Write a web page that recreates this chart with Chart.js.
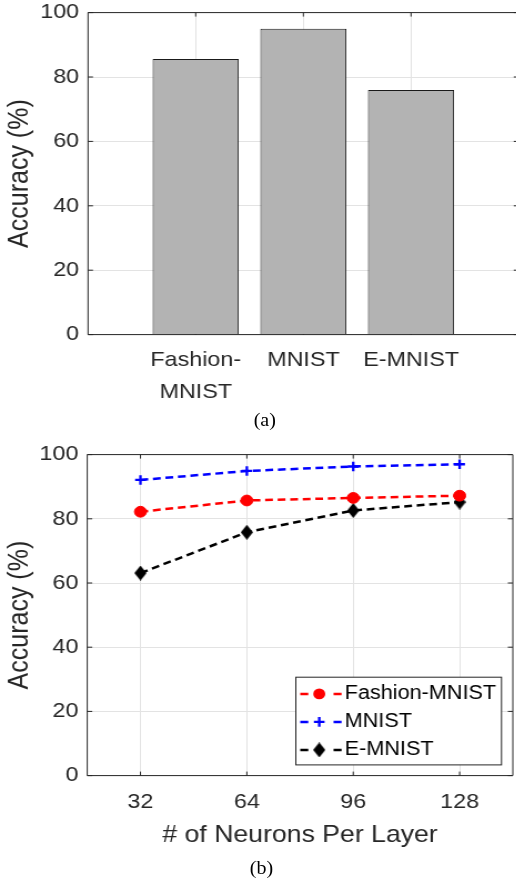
<!DOCTYPE html>
<html>
<head>
<meta charset="utf-8">
<script src="https://cdn.jsdelivr.net/npm/chart.js@4/dist/chart.umd.min.js"></script>
<style>
  html, body { margin: 0; padding: 0; background: #fff; overflow: hidden; width: 516px; height: 879px; }
  /* the figure is laid out a little narrow and widened horizontally */
  #sheet { position: absolute; left: 0; top: 0; width: 480px; height: 879px; transform: scaleX(1.11); transform-origin: 0 0; }
  canvas { position: absolute; left: 0; }
  .cap { position: absolute; font-family: 'Liberation Serif', 'Times New Roman', serif; font-size: 18px; color: #000;
         height: 20px; line-height: 20px; text-align: center; }
</style>
</head>
<body>
<div id="sheet">
  <canvas id="barChart" width="480" height="410" style="top:-7.6px;width:480px;height:410px"></canvas>
  <div class="cap" style="left:0;width:477px;top:410px">(a)</div>
  <canvas id="lineChart" width="470" height="420" style="top:434.1px;width:470px;height:420px"></canvas>
  <div class="cap" style="left:0;width:471px;top:858px">(b)</div>
</div>
<script>
// ---- data ----
const datasetNames = ['Fashion-MNIST', 'MNIST', 'E-MNIST'];
const barCategories = [['Fashion-', 'MNIST'], ['MNIST'], ['E-MNIST']];
const barAccuracy = [85.6, 95.0, 76.0];

const neuronCounts = [32, 64, 96, 128];
const fashionAccuracy = [82.2, 85.7, 86.5, 87.2];
const mnistAccuracy = [92.1, 94.9, 96.3, 97.0];
const emnistAccuracy = [63.1, 75.8, 82.6, 85.2];

const accuracyTicks = [0, 20, 40, 60, 80, 100];

// ---- styling ----
const FONT = "'Liberation Sans', Arial, Helvetica, sans-serif";
const INK = '#262626';
const GRID = '#e3e3e3';

// box around the axes with inward tick marks on every side
const axesBox = {
  id: 'axesBox',
  beforeDatasetsDraw(chart) {
    const { ctx, chartArea: a, scales } = chart;
    ctx.save();
    ctx.strokeStyle = INK;
    ctx.lineWidth = 1;
    ctx.beginPath();
    ctx.rect(a.left, a.top, a.right - a.left, a.bottom - a.top);
    scales.x.ticks.forEach(t => {
      const p = scales.x.getPixelForValue(t.value);
      ctx.moveTo(p, a.bottom); ctx.lineTo(p, a.bottom - 4);
      ctx.moveTo(p, a.top); ctx.lineTo(p, a.top + 4);
    });
    scales.y.ticks.forEach(t => {
      const p = scales.y.getPixelForValue(t.value);
      ctx.moveTo(a.left, p); ctx.lineTo(a.left + 4.5, p);
      ctx.moveTo(a.right, p); ctx.lineTo(a.right - 4.5, p);
    });
    ctx.stroke();
    ctx.restore();
  }
};

function yAxis(width) {
  return {
    type: 'linear', min: 0, max: 100,
    afterBuildTicks: s => { s.ticks = accuracyTicks.map(v => ({ value: v })); },
    afterFit: s => { s.width = width; },
    grid: { color: GRID, lineWidth: 1, drawTicks: false },
    border: { display: false },
    ticks: { color: INK, padding: 8, font: { family: FONT, size: 21 } },
    title: { display: true, text: 'Accuracy (%)', color: INK,
             font: { family: FONT, size: 25 }, padding: { top: 3, bottom: 0 } }
  };
}

// ---- (a) bar chart ----
new Chart(document.getElementById('barChart'), {
  type: 'bar',
  data: {
    datasets: [{
      data: barAccuracy.map((v, i) => ({ x: i + 1, y: v })),
      backgroundColor: '#b3b3b3',
      borderColor: '#1a1a1a',
      borderWidth: 1,
      barPercentage: 0.8,
      categoryPercentage: 1.0
    }]
  },
  options: {
    responsive: false, maintainAspectRatio: false, animation: false,
    layout: { padding: { left: 0, top: 0, right: 12.7, bottom: 0 } },
    plugins: { legend: { display: false }, tooltip: { enabled: false } },
    scales: {
      x: {
        type: 'linear', min: 0, max: 4, offset: false,
        afterBuildTicks: s => { s.ticks = barCategories.map((_, i) => ({ value: i + 1 })); },
        afterFit: s => { s.height = 67.4; },
        grid: { color: GRID, lineWidth: 1, drawTicks: false, offset: false },
        border: { display: false },
        ticks: {
          color: INK, padding: 9, maxRotation: 0,
          font: { family: FONT, size: 21, lineHeight: 1.55 },
          callback: v => barCategories[v - 1] || ''
        }
      },
      y: yAxis(79.3)
    }
  },
  plugins: [axesBox]
});

// ---- (b) line chart ----
function diamondGlyph(w, h, color) {
  const c = document.createElement('canvas');
  c.width = w; c.height = h;
  const g = c.getContext('2d');
  g.fillStyle = color;
  g.beginPath();
  g.moveTo(w / 2, 0); g.lineTo(w, h / 2); g.lineTo(w / 2, h); g.lineTo(0, h / 2);
  g.closePath(); g.fill();
  return c;
}
const diamond = diamondGlyph(11, 15, '#000000');

function series(name, values, color, marker, radius, markerWidth) {
  return {
    label: name,
    data: neuronCounts.map((n, i) => ({ x: n, y: values[i] })),
    borderColor: color, backgroundColor: color,
    borderWidth: 2.5, borderDash: [7, 4.3], borderCapStyle: 'butt',
    tension: 0, fill: false,
    pointStyle: marker, pointRadius: radius, pointHoverRadius: radius,
    pointBorderWidth: markerWidth, pointBorderColor: color, pointBackgroundColor: color
  };
}

function drawMarker(ctx, ds, x, y) {
  const st = ds.pointStyle;
  ctx.save();
  ctx.setLineDash([]);
  if (st instanceof HTMLCanvasElement) {
    ctx.drawImage(st, x - st.width / 2, y - st.height / 2);
  } else if (st === 'cross') {
    ctx.strokeStyle = ds.pointBorderColor; ctx.lineWidth = ds.pointBorderWidth;
    ctx.beginPath();
    ctx.moveTo(x - ds.pointRadius, y); ctx.lineTo(x + ds.pointRadius, y);
    ctx.moveTo(x, y - ds.pointRadius); ctx.lineTo(x, y + ds.pointRadius);
    ctx.stroke();
  } else {
    ctx.fillStyle = ds.pointBackgroundColor;
    ctx.beginPath(); ctx.arc(x, y, ds.pointRadius, 0, Math.PI * 2); ctx.fill();
  }
  ctx.restore();
}

// boxed legend in the lower right, each entry shows "- marker -"
const boxLegend = {
  id: 'boxLegend',
  afterDatasetsDraw(chart) {
    const { ctx, chartArea: a } = chart;
    const w = 185.3, h = 87.7;
    const x0 = a.right - 10.2 - w, y0 = a.bottom - 10.7 - h;
    ctx.save();
    ctx.fillStyle = '#ffffff';
    ctx.fillRect(x0, y0, w, h);
    ctx.strokeStyle = INK; ctx.lineWidth = 1;
    ctx.strokeRect(x0, y0, w, h);
    chart.data.datasets.forEach((ds, i) => {
      const cy = y0 + 16.7 + 28 * i;
      ctx.strokeStyle = ds.borderColor; ctx.lineWidth = ds.borderWidth;
      ctx.beginPath();
      ctx.moveTo(x0 + 4, cy); ctx.lineTo(x0 + 11.2, cy);
      ctx.moveTo(x0 + 34, cy); ctx.lineTo(x0 + 41.2, cy);
      ctx.stroke();
      drawMarker(ctx, ds, x0 + 21.1, cy);
      ctx.fillStyle = '#000000';
      ctx.font = '19.5px ' + FONT;
      ctx.textBaseline = 'middle';
      ctx.textAlign = 'left';
      ctx.fillText(ds.label, x0 + 44, cy);
    });
    ctx.restore();
  }
};

new Chart(document.getElementById('lineChart'), {
  type: 'line',
  data: {
    datasets: [
      series(datasetNames[0], fashionAccuracy, '#ff0000', 'circle', 5.4, 1),
      series(datasetNames[1], mnistAccuracy, '#0000ff', 'cross', 4.8, 2.3),
      series(datasetNames[2], emnistAccuracy, '#000000', diamond, 7, 1)
    ]
  },
  options: {
    responsive: false, maintainAspectRatio: false, animation: false,
    layout: { padding: { left: 0, top: 0, right: 5.8, bottom: 0 } },
    plugins: { legend: { display: false }, tooltip: { enabled: false } },
    scales: {
      x: {
        type: 'linear', min: 16, max: 144,
        afterBuildTicks: s => { s.ticks = neuronCounts.map(v => ({ value: v })); },
        afterFit: s => { s.height = 78.4; },
        grid: { color: GRID, lineWidth: 1, drawTicks: false },
        border: { display: false },
        ticks: { color: INK, padding: 14, maxRotation: 0, font: { family: FONT, size: 21 } },
        title: { display: true, text: '# of Neurons Per Layer', color: INK,
                 font: { family: FONT, size: 24 }, padding: { top: 0, bottom: 3.9 } }
      },
      y: yAxis(78.6)
    }
  },
  plugins: [axesBox, boxLegend]
});
</script>
</body>
</html>
